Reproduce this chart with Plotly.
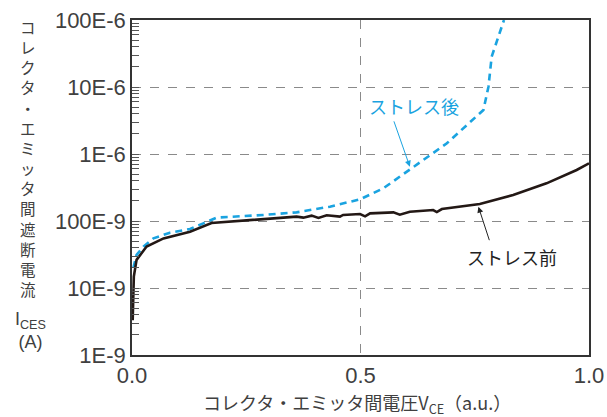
import plotly.graph_objects as go

# ---- data ----
before_x = [0.0015, 0.004, 0.010, 0.032, 0.069, 0.127, 0.174, 0.360, 0.375, 0.393, 0.408,
            0.426, 0.455, 0.462, 0.499, 0.510, 0.521, 0.572, 0.586, 0.608, 0.659, 0.667,
            0.678, 0.761, 0.834, 0.907, 0.973, 1.000]
before_logy = [-8.48, -7.83, -7.58, -7.38, -7.26, -7.16, -7.03, -6.935, -6.950, -6.920, -6.955,
               -6.915, -6.935, -6.910, -6.896, -6.930, -6.886, -6.871, -6.905, -6.861, -6.836, -6.866,
               -6.821, -6.746, -6.612, -6.438, -6.239, -6.139]

after_x = [0.003, 0.010, 0.025, 0.047, 0.083, 0.127, 0.156, 0.185, 0.287, 0.360, 0.433,
           0.499, 0.550, 0.612, 0.689, 0.769, 0.780, 0.787, 0.811, 0.814]
after_logy = [-7.70, -7.507, -7.383, -7.258, -7.174, -7.119, -7.035, -6.950, -6.910, -6.871, -6.786,
              -6.676, -6.512, -6.213, -5.840, -5.343, -4.996, -4.548, -4.04, -4.0]

before_y = [10 ** v for v in before_logy]
after_y = [10 ** v for v in after_logy]

y_tickvals = [1e-9, 1e-8, 1e-7, 1e-6, 1e-5, 1e-4]
y_ticktext = ["1E-9", "10E-9", "100E-9", "1E-6", "10E-6", "100E-6"]
x_tickvals = [0.0, 0.5, 1.0]
x_ticktext = ["0.0", "0.5", "1.0"]
minor_vals = [m * 10 ** e for e in range(-9, -4) for m in range(2, 10)]

y_title_chars = ["コ", "レ", "ク", "タ", "・", "エ", "ミ", "ッ", "タ", "間", "遮", "断", "電", "流"]
y_unit = "I<sub>CES</sub><br>(A)"
x_title = "コレクタ・エミッタ間電圧V<sub>CE</sub>（a.u.）"
label_after = "ストレス後"
label_before = "ストレス前"

BLUE = "#1AA3E0"
BLACK = "#231815"
GRID = "#8a8a8a"
TXT = "#404040"
JP = "Noto Sans CJK JP"
NUM = "Liberation Sans"

fig = go.Figure()
fig.add_trace(go.Scatter(x=after_x, y=after_y, mode="lines",
                         line=dict(color=BLUE, width=2.6, dash="7px,5px"),
                         showlegend=False, hoverinfo="skip"))
fig.add_trace(go.Scatter(x=before_x, y=before_y, mode="lines",
                         line=dict(color=BLACK, width=2.6),
                         showlegend=False, hoverinfo="skip"))

fig.update_layout(
    width=607, height=417,
    margin=dict(l=132, r=18, t=20, b=62, autoexpand=False),
    paper_bgcolor="white", plot_bgcolor="white",
    showlegend=False,
)
fig.update_xaxes(
    range=[0, 1], tickvals=x_tickvals, ticktext=x_ticktext, automargin=False,
    showgrid=True, gridcolor=GRID, griddash="dash", gridwidth=1,
    showline=True, linecolor="#333", linewidth=1.5, mirror=True,
    ticks="", tickfont=dict(family=NUM, size=22, color=TXT),
    zeroline=False,
)
fig.update_yaxes(
    type="log", range=[-9, -4], tickvals=y_tickvals, ticktext=y_ticktext, automargin=False,
    showgrid=True, gridcolor=GRID, griddash="dash", gridwidth=1,
    showline=True, linecolor="#333", linewidth=1.5, mirror=True,
    ticks="inside", ticklen=7, tickcolor="#555",
    tickfont=dict(family=NUM, size=22, color=TXT),
    minor=dict(tickvals=minor_vals, ticks="inside", ticklen=7, tickcolor="#555", showgrid=False),
    zeroline=False,
)

annotations = []
# vertical y-axis title, stacked one character per line
annotations.append(dict(text="<br>".join(y_title_chars), xref="paper", yref="paper",
                        x=(28 - 132) / 457, y=(355 - 158) / 335,
                        xanchor="center", yanchor="middle", showarrow=False,
                        borderpad=0, font=dict(family=JP, size=15.5, color=TXT)))
annotations.append(dict(text=y_unit, xref="paper", yref="paper",
                        x=(30 - 132) / 457, y=(355 - 330) / 335,
                        xanchor="center", yanchor="middle", showarrow=False,
                        borderpad=0, font=dict(family=NUM, size=18, color=TXT)))
# x-axis title
annotations.append(dict(text=x_title, xref="paper", yref="paper",
                        x=(357 - 132) / 457, y=(355 - 403) / 335,
                        xanchor="center", yanchor="middle", showarrow=False,
                        font=dict(family=JP, size=18, color=TXT)))
# labels with arrows
annotations.append(dict(text=label_after, x=0.617, y=-5.284, xref="x", yref="y",
                        showarrow=False, font=dict(family=JP, size=18, color=BLUE)))
annotations.append(dict(text="", x=0.608, y=-6.19, ax=0.572, ay=-5.49,
                        xref="x", yref="y", axref="x", ayref="y",
                        showarrow=True, arrowhead=2, arrowsize=1.2, arrowwidth=1,
                        arrowcolor=BLUE))
annotations.append(dict(text=label_before, x=0.832, y=-7.537, xref="x", yref="y",
                        showarrow=False, font=dict(family=JP, size=18, color="#222")))
annotations.append(dict(text="", x=0.758, y=-6.787, ax=0.783, ay=-7.309,
                        xref="x", yref="y", axref="x", ayref="y",
                        showarrow=True, arrowhead=2, arrowsize=1.2, arrowwidth=1,
                        arrowcolor="#222"))
fig.update_layout(annotations=annotations)

fig.write_html("out.html", config={"displayModeBar": False},
               post_script="document.body.style.margin='0';document.body.style.overflow='hidden';")
